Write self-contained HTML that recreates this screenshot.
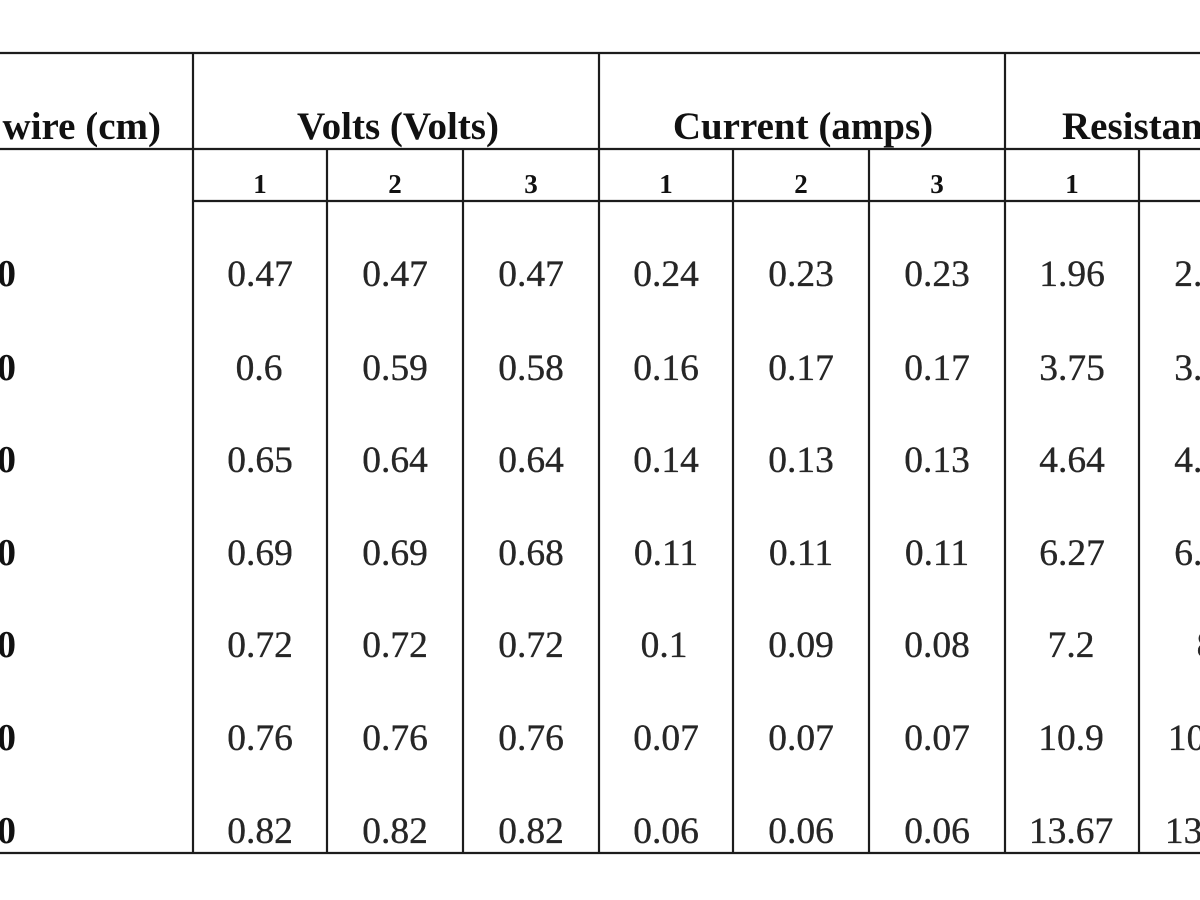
<!DOCTYPE html>
<html>
<head>
<meta charset="utf-8">
<style>
  html, body { margin:0; padding:0; background:#ffffff; }
  body { width:1200px; height:900px; overflow:hidden; }
  svg { display:block; }
  .h { font-family:"Liberation Serif", serif; font-weight:bold; fill:#111; }
  .d { font-family:"Liberation Serif", serif; fill:#262626; stroke:#262626; stroke-width:0.35; }
</style>
</head>
<body>
<svg width="1200" height="900" viewBox="0 0 1200 900" xmlns="http://www.w3.org/2000/svg">
  <rect width="1200" height="900" fill="#ffffff"/>
  <g stroke="#1c1c1c" stroke-width="2.2" fill="none">
    <line x1="0" y1="53" x2="1200" y2="53"/>
    <line x1="0" y1="149" x2="1200" y2="149"/>
    <line x1="193" y1="201" x2="1200" y2="201"/>
    <line x1="0" y1="853" x2="1200" y2="853"/>
    <line x1="193" y1="53" x2="193" y2="853"/>
    <line x1="599" y1="53" x2="599" y2="853"/>
    <line x1="1005" y1="53" x2="1005" y2="853"/>
    <line x1="327" y1="149" x2="327" y2="853"/>
    <line x1="463" y1="149" x2="463" y2="853"/>
    <line x1="733" y1="149" x2="733" y2="853"/>
    <line x1="869" y1="149" x2="869" y2="853"/>
    <line x1="1139" y1="149" x2="1139" y2="853"/>
  </g>

  <g class="h" font-size="39">
    <text x="161" y="139" text-anchor="end">Length of wire (cm)</text>
    <text x="398" y="139" text-anchor="middle">Volts (Volts)</text>
    <text x="803" y="139" text-anchor="middle">Current (amps)</text>
    <text x="1062" y="139" text-anchor="start">Resistance (ohms)</text>
  </g>
  <g class="h" font-size="27" text-anchor="middle">
    <text x="260" y="193">1</text>
    <text x="395" y="193">2</text>
    <text x="531" y="193">3</text>
    <text x="666" y="193">1</text>
    <text x="801" y="193">2</text>
    <text x="937" y="193">3</text>
    <text x="1072" y="193">1</text>
    <text x="1208" y="193">2</text>
  </g>

  <g class="h" font-size="38" text-anchor="end">
    <text x="16" y="286">10</text>
    <text x="16" y="380">20</text>
    <text x="16" y="472">30</text>
    <text x="16" y="565">40</text>
    <text x="16" y="657">50</text>
    <text x="16" y="750">60</text>
    <text x="16" y="843">70</text>
  </g>

  <g class="d" font-size="37.5" text-anchor="middle">
    <text x="260" y="286">0.47</text><text x="395" y="286">0.47</text><text x="531" y="286">0.47</text>
    <text x="666" y="286">0.24</text><text x="801" y="286">0.23</text><text x="937" y="286">0.23</text>
    <text x="1072" y="286">1.96</text><text x="1207" y="286">2.04</text>

    <text x="259" y="380">0.6</text><text x="395" y="380">0.59</text><text x="531" y="380">0.58</text>
    <text x="666" y="380">0.16</text><text x="801" y="380">0.17</text><text x="937" y="380">0.17</text>
    <text x="1072" y="380">3.75</text><text x="1207" y="380">3.47</text>

    <text x="260" y="472">0.65</text><text x="395" y="472">0.64</text><text x="531" y="472">0.64</text>
    <text x="666" y="472">0.14</text><text x="801" y="472">0.13</text><text x="937" y="472">0.13</text>
    <text x="1072" y="472">4.64</text><text x="1207" y="472">4.92</text>

    <text x="260" y="565">0.69</text><text x="395" y="565">0.69</text><text x="531" y="565">0.68</text>
    <text x="666" y="565">0.11</text><text x="801" y="565">0.11</text><text x="937" y="565">0.11</text>
    <text x="1072" y="565">6.27</text><text x="1207" y="565">6.27</text>

    <text x="260" y="657">0.72</text><text x="395" y="657">0.72</text><text x="531" y="657">0.72</text>
    <text x="664" y="657">0.1</text><text x="801" y="657">0.09</text><text x="937" y="657">0.08</text>
    <text x="1071" y="657">7.2</text><text x="1206" y="657">8</text>

    <text x="260" y="750">0.76</text><text x="395" y="750">0.76</text><text x="531" y="750">0.76</text>
    <text x="666" y="750">0.07</text><text x="801" y="750">0.07</text><text x="937" y="750">0.07</text>
    <text x="1071" y="750">10.9</text><text x="1210" y="750">10.86</text>

    <text x="260" y="843">0.82</text><text x="395" y="843">0.82</text><text x="531" y="843">0.82</text>
    <text x="666" y="843">0.06</text><text x="801" y="843">0.06</text><text x="937" y="843">0.06</text>
    <text x="1071" y="843">13.67</text><text x="1207" y="843">13.67</text>
  </g>
</svg>
</body>
</html>
